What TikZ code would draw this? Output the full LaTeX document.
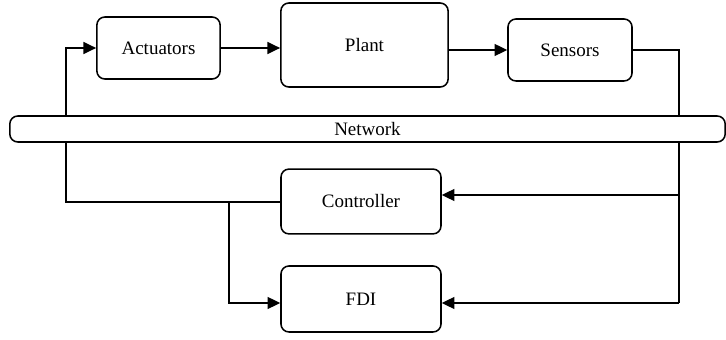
\documentclass[tikz,border=0pt]{standalone}
\usepackage{fontspec}
\setmainfont{Liberation Serif}
\usetikzlibrary{arrows.meta}

\begin{document}
\begin{tikzpicture}[x=0.025cm, y=-0.025cm,
			blk/.style={draw=black, line width=1.1pt, rounded corners=2mm, inner sep=0pt, font=\rmfamily\fontsize{13.5}{16}\selectfont},
			wire/.style={black, line width=1.1pt},
			arr/.style={wire, -{Triangle[length=9pt,width=8.5pt]}}]
		\useasboundingbox (0,0) rectangle (726,340);
		\path 	(158.5,48) 	node 	(act) [blk, minimum width=3.08cm, minimum height=1.55cm] {Actuators}
		        (364.5,45) 	node 	(plant) [blk, minimum width=4.18cm, minimum height=2.1cm] {Plant}
		        (570,50) 	node 	(sens) [blk, minimum width=3.1cm, minimum height=1.55cm] {Sensors}
		        (361,201.5) node 	(ctrl) [blk, minimum width=4cm, minimum height=1.62cm] {Controller}
		        (361,299) 	node 	(fdi) [blk, minimum width=4cm, minimum height=1.65cm] {FDI};
		\coordinate (sc) at (679,303);
		\coordinate (cr) at (679,195);
		\coordinate (lc) at (66,202);
		\coordinate (br) at (229,202);
		\draw [arr] (act.east) -- (act.east -| plant.west);
		\draw [arr] (plant.east |- sens) -- (sens.west);
		\draw [wire] (sens.east) -| (sc);
		\draw [arr] (sc) -- (fdi.east |- sc);
		\draw [arr] (cr) -- (ctrl.east |- cr);
		\draw [arr] (ctrl.west |- lc) -- (lc) |- (act.west);
		\draw [arr] (br) |- (fdi.west |- sc);
		\path 	(367.5,129) node 	(net) [blk, fill=white, minimum width=17.88cm, minimum height=0.65cm] {Network};
	\end{tikzpicture}
\end{document}
